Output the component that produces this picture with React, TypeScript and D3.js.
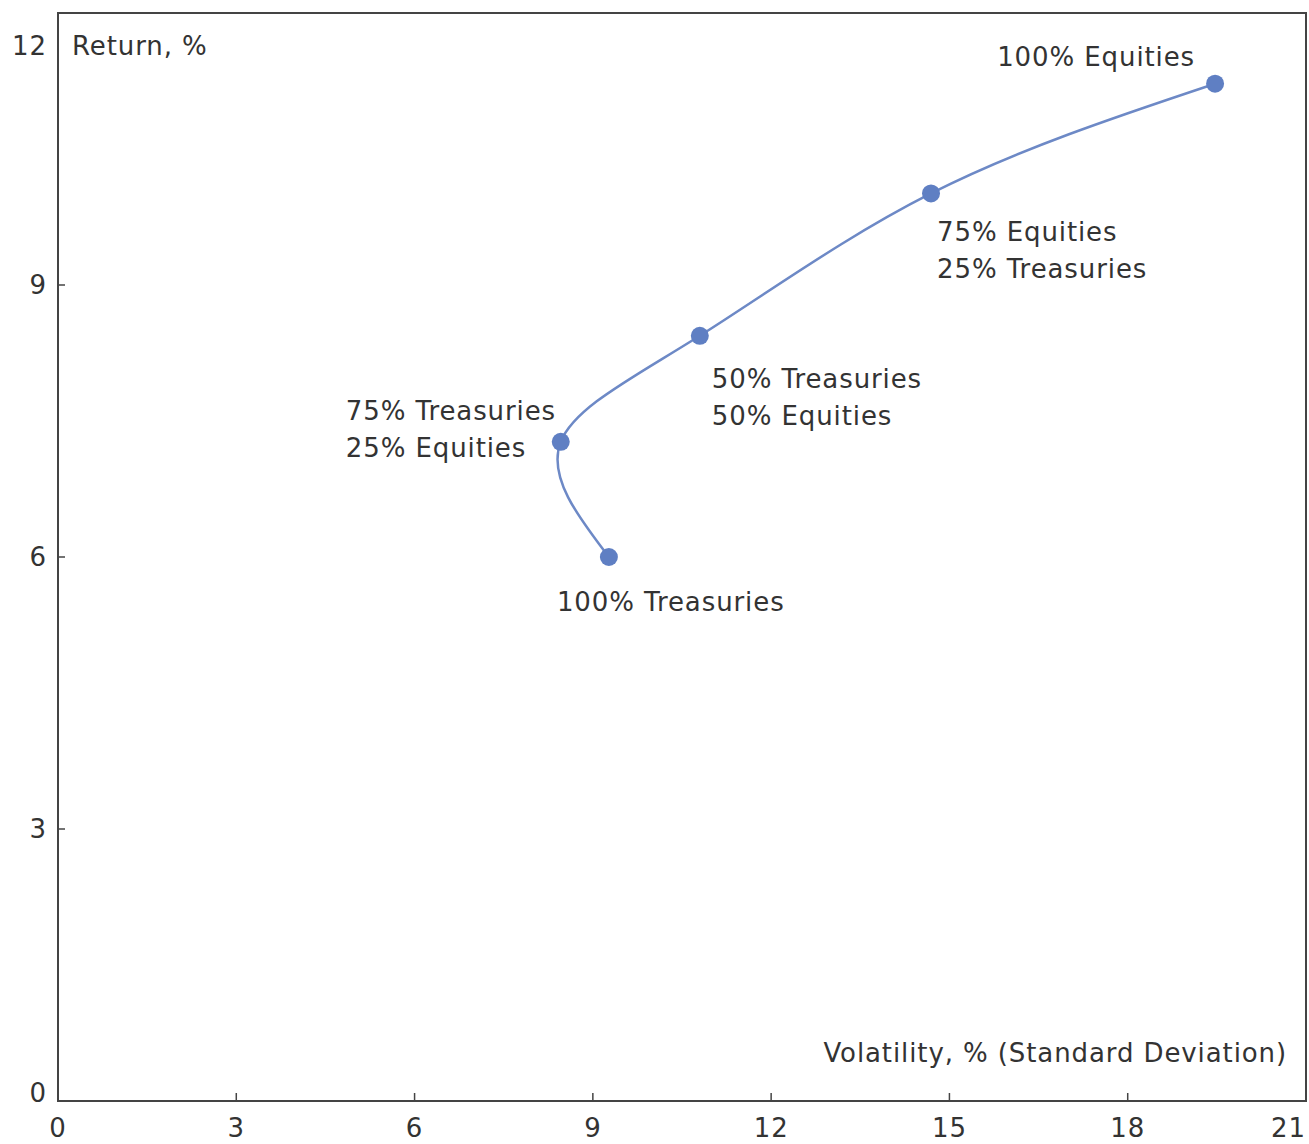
import React, { useRef, useEffect } from 'react';
import * as d3 from 'd3';

// Portfolio mixes (volatility %, return %)
const volatility = [9.27, 8.46, 10.8, 14.69, 19.47];
const returns = [6.0, 7.27, 8.44, 10.01, 11.22];
const labels = [
    ['100% Treasuries'],
    ['75% Treasuries', '25% Equities'],
    ['50% Treasuries', '50% Equities'],
    ['75% Equities', '25% Treasuries'],
    ['100% Equities'],
];
const xTicks = [0, 3, 6, 9, 12, 15, 18, 21];
const yTicks = [0, 3, 6, 9, 12];

// label offsets relative to the point: [dx, dy of first baseline, anchor]
const labelPos: [number, number, string][] = [
    [-52, 54, 'start'],
    [-215, -22, 'start'],
    [12, 52, 'start'],
    [6, 48, 'start'],
    [-20, -18, 'end'],
];

function App() {
    const svgRef = useRef<SVGSVGElement | null>(null);

    useEffect(() => {
        if (!svgRef.current) return;
        const svg = d3.select(svgRef.current);
        svg.selectAll('*').remove();

        const width = 1309;
        const height = 1144;
        const left = 58, right = 1306, top = 13, bottom = 1101;
        const font = 'DejaVu Sans, Verdana, sans-serif';
        const textColor = '#333';

        const x = d3.scaleLinear().domain([0, 21]).range([left, right]);
        const y = d3.scaleLinear().domain([0, 12]).range([bottom, top]);

        svg.attr('width', width).attr('height', height);

        const txt = (sel: any) => sel
            .attr('font-family', font).attr('font-size', 26)
            .attr('letter-spacing', 0.9).attr('fill', textColor);

        // frame
        svg.append('rect')
            .attr('x', left).attr('y', top)
            .attr('width', right - left).attr('height', bottom - top)
            .attr('fill', 'none').attr('stroke', '#444').attr('stroke-width', 2);

        // x ticks (inward)
        const gx = svg.append('g');
        gx.selectAll('line').data(xTicks.slice(1, -1)).join('line')
            .attr('x1', d => x(d)).attr('x2', d => x(d))
            .attr('y1', bottom).attr('y2', bottom - 8)
            .attr('stroke', '#444').attr('stroke-width', 1.5);
        gx.selectAll('text').data(xTicks).join('text')
            .attr('x', d => (d === 21 ? right : x(d)))
            .attr('y', 1137)
            .attr('text-anchor', d => (d === 21 ? 'end' : 'middle'))
            .call(txt)
            .text(d => d);

        // y ticks (inward)
        const gy = svg.append('g');
        gy.selectAll('line').data(yTicks.slice(1, -1)).join('line')
            .attr('x1', left).attr('x2', left + 7)
            .attr('y1', d => y(d)).attr('y2', d => y(d))
            .attr('stroke', '#444').attr('stroke-width', 1.5);
        gy.selectAll('text').data(yTicks).join('text')
            .attr('x', 47)
            .attr('y', d => (d === 12 ? 55 : d === 0 ? 1102 : y(d) + 9))
            .attr('text-anchor', 'end')
            .call(txt)
            .text(d => d);

        // axis titles
        svg.append('text')
            .attr('x', 72).attr('y', 55)
            .call(txt)
            .text('Return, %');
        svg.append('text')
            .attr('x', 1287).attr('y', 1062)
            .attr('text-anchor', 'end')
            .call(txt)
            .text('Volatility, % (Standard Deviation)');

        const pts: [number, number][] = volatility.map((v, i) => [v, returns[i]]);

        // frontier curve
        const line = d3.line<[number, number]>()
            .x(d => x(d[0])).y(d => y(d[1]))
            .curve(d3.curveNatural);
        svg.append('path')
            .datum(pts)
            .attr('d', line)
            .attr('fill', 'none')
            .attr('stroke', '#6d89c6')
            .attr('stroke-width', 2.5);

        // points
        svg.append('g').selectAll('circle').data(pts).join('circle')
            .attr('cx', d => x(d[0])).attr('cy', d => y(d[1]))
            .attr('r', 9)
            .attr('fill', '#5f7fc3');

        // labels
        const gl = svg.append('g');
        pts.forEach((p, i) => {
            const [dx, dy, anchor] = labelPos[i];
            const t = gl.append('text')
                .attr('x', x(p[0]) + dx).attr('y', y(p[1]) + dy)
                .attr('text-anchor', anchor)
                .call(txt);
            labels[i].forEach((s, j) => {
                t.append('tspan')
                    .attr('x', x(p[0]) + dx)
                    .attr('dy', j === 0 ? 0 : 37)
                    .text(s);
            });
        });
    }, []);

    return (
        <div style={{ position: 'absolute', left: 0, top: 0, background: '#fff' }}>
            <svg ref={svgRef} style={{ display: 'block' }}></svg>
        </div>
    );
}

export default App;
